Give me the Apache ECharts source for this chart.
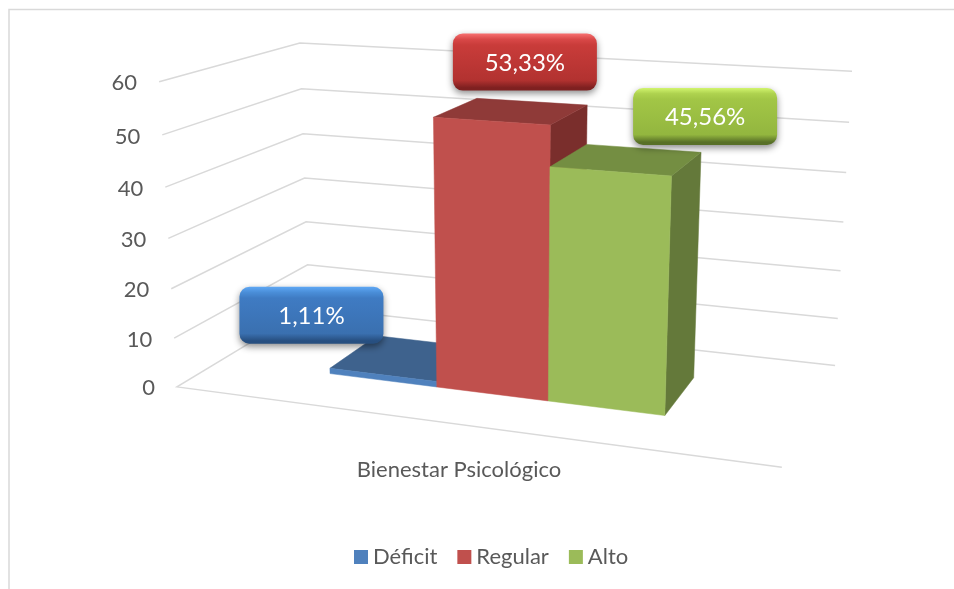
<!DOCTYPE html>
<html><head><meta charset="utf-8">
<style>html,body{margin:0;padding:0;background:#fff}#c{width:954px;height:589px}</style>
<script src="https://cdn.jsdelivr.net/npm/echarts@6/dist/echarts.min.js"></script>
</head><body><div id="c"></div>
<script>
// ---- data ----
const categories = ['Bienestar Psicológico'];
const seriesNames = ['Déficit', 'Regular', 'Alto'];
const deficitValues = [1.11];
const regularValues = [53.33];
const altoValues = [45.56];
const valueLabels = ['1,11%', '53,33%', '45,56%'];
const yTicks = [0, 10, 20, 30, 40, 50, 60];

// ---- layout / style ----
const W = 954, H = 589;
const FONT = 'Lato, Carlito, "Open Sans", sans-serif';
const GRID = {left: 177, right: 213, top: 82, bottom: 129};
const gridBottomY = H - GRID.bottom, gridH = H - GRID.top - GRID.bottom;
const colors = ['#4F81BD', '#C0504D', '#9BBB59'];
const topColors = ['#3E628D', '#8F3A38', '#748E42'];
const sideColors = ['#2F4F75', '#7A2E2C', '#64793A'];
const bevel = [
  {edge:'#5FA8F5', hi:'#4A8ED8', body:'#3F7BC3', lo:'#3A70B0', dark:'#274F80'},
  {edge:'#F77070', hi:'#D94848', body:'#C93C3A', lo:'#B23230', dark:'#7E2020'},
  {edge:'#D2F56E', hi:'#AED24F', body:'#A2C646', lo:'#93B63F', dark:'#587027'}
];
const slotEdges = [0.2075, 0.402, 0.5955, 0.788];
const depthFront = 0.305, depthBack = 0.70;
const labelOffsets = [[-94, -42.5], [13, -49], [78, -43]];
const LABEL_W = 144, LABEL_H = 57;

// Perspective camera fitted to the frame of the 3D box: [u, t, z] -> [px, py]
const cameraAnchors = [
  [0,0,0, 177,387],[0,1,0, 159,82],[0,0,1, 309,307],[0,1,1, 300,43],
  [1,0,1, 835,366],[1,1,1, 852,71],[1,0,0, 782,467]
];
function solveCamera(anchors) {
  const A = [], b = [];
  anchors.forEach(([X,Y,Z,x,y]) => {
    x /= 1000; y /= 1000;
    A.push([X,Y,Z,1,0,0,0,0,-x*X,-x*Y,-x*Z]); b.push(x);
    A.push([0,0,0,0,X,Y,Z,1,-y*X,-y*Y,-y*Z]); b.push(y);
  });
  const n = 11, M = [];
  for (let i = 0; i < n; i++) {
    M[i] = [];
    for (let j = 0; j < n; j++) M[i][j] = A.reduce((s, r) => s + r[i]*r[j], 0);
    M[i][n] = A.reduce((s, r, k) => s + r[i]*b[k], 0);
  }
  for (let i = 0; i < n; i++) {
    let p = i;
    for (let r = i+1; r < n; r++) if (Math.abs(M[r][i]) > Math.abs(M[p][i])) p = r;
    [M[i], M[p]] = [M[p], M[i]];
    for (let r = 0; r < n; r++) if (r !== i) {
      const f = M[r][i] / M[i][i];
      for (let c = i; c <= n; c++) M[r][c] -= f*M[i][c];
    }
  }
  return M.map((r, i) => r[n]/r[i]);
}
const cam = solveCamera(cameraAnchors);
function project(u, t, z) {
  const w = cam[8]*u + cam[9]*t + cam[10]*z + 1;
  return [1000*(cam[0]*u + cam[1]*t + cam[2]*z + cam[3])/w,
          1000*(cam[4]*u + cam[5]*t + cam[6]*z + cam[7])/w];
}
const heightOf = (api, v) => (gridBottomY - api.coord([0, v])[1]) / gridH;

function poly(points, fill) {
  return {type:'polygon', silent:true, shape:{points}, style:{fill, stroke:fill, lineWidth:0.5}};
}
function wallRender(params, api) {
  const v = api.value(1), t = heightOf(api, v);
  const pts = [project(0,t,0), project(0,t,1), project(1,t,1)];
  if (v === 0) pts.unshift(project(1,t,0));
  const a = project(0,t,0);
  return {type:'group', children:[
    {type:'polyline', silent:true, shape:{points:pts}, style:{stroke:'#D9D9D9', lineWidth:1.5, fill:null}},
    {type:'text', silent:true, style:{text:String(v), x:a[0]-22, y:a[1]+1.5, align:'right', verticalAlign:'middle', fill:'#595959', font:'22px '+FONT}}
  ]};
}
function barRender(i) {
  return function (params, api) {
    const t = heightOf(api, api.value(1));
    const u0 = slotEdges[i], u1 = slotEdges[i+1], z0 = depthFront, z1 = depthBack;
    const children = [
      poly([project(u1,0,z0),project(u1,0,z1),project(u1,t,z1),project(u1,t,z0)], sideColors[i]),
      poly([project(u0,t,z0),project(u0,t,z1),project(u1,t,z1),project(u1,t,z0)], topColors[i]),
      poly([project(u0,0,z0),project(u1,0,z0),project(u1,t,z0),project(u0,t,z0)], colors[i])
    ];
    const c = project((u0+u1)/2, t, (z0+z1)/2);
    const x = c[0]+labelOffsets[i][0]-LABEL_W/2, y = c[1]+labelOffsets[i][1]-LABEL_H/2;
    const b = bevel[i];
    children.push(
      {type:'rect', silent:true, shape:{x, y, width:LABEL_W, height:LABEL_H, r:10},
       style:{fill:new echarts.graphic.LinearGradient(0,0,0,1,[
         {offset:0,color:b.edge},{offset:0.1,color:b.hi},{offset:0.2,color:b.body},
         {offset:0.82,color:b.lo},{offset:0.95,color:b.dark},{offset:1,color:b.dark}]),
         shadowBlur:7, shadowOffsetY:3, shadowColor:'rgba(0,0,0,0.45)'}},
      {type:'text', silent:true, style:{text:valueLabels[i], x:x+LABEL_W/2, y:y+LABEL_H/2+1, align:'center', verticalAlign:'middle', fill:'#FFFFFF', font:'24px '+FONT}}
    );
    return {type:'group', children};
  };
}
const valueSets = [deficitValues, regularValues, altoValues];
const option = {
  animation:false,
  backgroundColor:'#FFFFFF',
  graphic:[{type:'rect', silent:true, shape:{x:9, y:9.5, width:1200, height:1200}, style:{fill:'none', stroke:'#D9D9D9', lineWidth:1.5}, z:-1}],
  grid:GRID,
  xAxis:{type:'category', data:categories, axisLine:{show:false}, axisTick:{show:false}, splitLine:{show:false},
         axisLabel:{color:'#595959', fontSize:22, fontFamily:FONT, margin:-1}},
  yAxis:{type:'value', min:0, max:60, interval:10, show:false},
  legend:{data:seriesNames, left:349, top:541, icon:'rect', itemWidth:14, itemHeight:14, itemGap:20,
          textStyle:{color:'#595959', fontSize:22, fontFamily:FONT}},
  series:[
    {type:'custom', name:'grid', renderItem:wallRender, data:yTicks.map(v=>[0,v]), encode:{x:0,y:1}, clip:false, silent:true},
    ...seriesNames.map((name,i)=>({type:'custom', name, renderItem:barRender(i), itemStyle:{color:colors[i]},
        data:valueSets[i].map((v,k)=>[k,v]), encode:{x:0,y:1}, clip:false, silent:true}))
  ]
};
echarts.init(document.getElementById('c'), null, {renderer:'canvas'}).setOption(option);
</script></body></html>
